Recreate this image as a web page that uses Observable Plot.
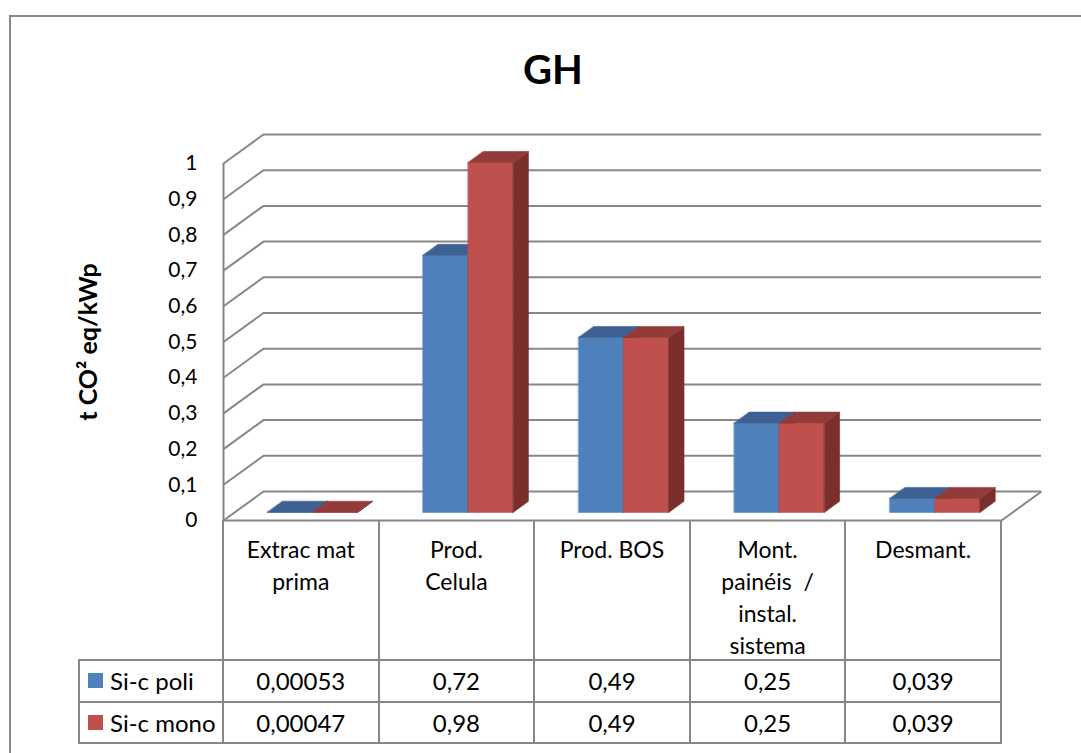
<!DOCTYPE html>
<html>
<head>
<meta charset="utf-8">
<script src="https://cdn.jsdelivr.net/npm/d3@7"></script>
<script src="https://cdn.jsdelivr.net/npm/@observablehq/plot@0.6"></script>
<style>
  body { margin: 0; background: #fff; font-family: Lato, "Open Sans", sans-serif; }
  #wrap { position: relative; width: 1081px; height: 753px; overflow: hidden; background: #fff; }
  #frame { position: absolute; left: 9px; top: 15px; width: 1200px; height: 900px;
           border-left: 2px solid #878787; border-top: 2px solid #878787; }
  #title { position: absolute; left: 0; width: 1106px; top: 44px; text-align: center;
           font-weight: bold; font-size: 40px; line-height: 50px; color: #000; }
  #wrap svg { position: absolute; left: 0; top: 0; }
  .cell { position: absolute; text-align: center; font-size: 23px; line-height: 32px;
          color: #000; white-space: pre; }
  .val { font-size: 24px; }
  .rowlab { position: absolute; font-size: 24px; line-height: 32px; color: #000; white-space: nowrap; }
  .sw { position: absolute; width: 15px; height: 15px; }
  .ln { position: absolute; background: #878787; }
</style>
</head>
<body>
<div id="wrap">
  <div id="frame"></div>
  <div id="title">GH</div>
</div>
<script>
// Life-cycle stages (header row of the data table)
const categories = [
  "Extrac mat\nprima",
  "Prod.\nCelula",
  "Prod. BOS",
  "Mont.\npainéis  /\ninstal.\nsistema",
  "Desmant."
];
// Series names and values (t CO2 eq / kWp)
const seriesNames = ["Si-c poli", "Si-c mono"];
const siPoli = [0.00053, 0.72, 0.49, 0.25, 0.039];
const siMono = [0.00047, 0.98, 0.49, 0.25, 0.039];
// Y axis ticks and title
const yTicks = [0, 0.1, 0.2, 0.3, 0.4, 0.5, 0.6, 0.7, 0.8, 0.9, 1];
const yTitle = "t CO² eq/kWp";

// Colours: front / top / side shading for each series
const palette = [
  {front: "#4F81BD", top: "#3C6192", side: "#34557F"},
  {front: "#C0504D", top: "#923B39", side: "#7A2F2D"}
];
const GRID = "#878787";

// Layout
const W = 1081, H = 753, ML = 223, MR = 80, MT = 163, MB = 233;
const n = categories.length;
const DEPTH_PX = [40, 29];                 // oblique depth of the floor/walls
const DXU = DEPTH_PX[0] / ((W - ML - MR) / n);
const DYU = DEPTH_PX[1] / (H - MT - MB);
const GROUP = 0.58;                         // share of a category taken by the bar pair
const BW = GROUP / 2;
const F0 = 0.28, F1 = 0.66;                 // front and back depth of the bars

const fmt = v => String(v).replace(".", ",");
const series = [siPoli, siMono];

// Faces of every 3-D column, in painting order
const faces = [];
categories.forEach((c, i) => {
  series.forEach((vals, s) => {
    const v = vals[i];
    const x0 = i + (1 - GROUP) / 2 + s * BW, x1 = x0 + BW;
    const a = [F0 * DXU, F0 * DYU], b = [F1 * DXU, F1 * DYU];
    const id = `${i}-${s}`;
    const poly = (name, color, pts) => pts.forEach(([x, y]) => faces.push({id: id + name, color, x, y}));
    poly("f", palette[s].front, [[x0 + a[0], a[1]], [x1 + a[0], a[1]], [x1 + a[0], v + a[1]], [x0 + a[0], v + a[1]]]);
    poly("s", palette[s].side, [[x1 + a[0], a[1]], [x1 + b[0], b[1]], [x1 + b[0], v + b[1]], [x1 + a[0], v + a[1]]]);
    poly("t", palette[s].top, [[x0 + a[0], v + a[1]], [x1 + a[0], v + a[1]], [x1 + b[0], v + b[1]], [x0 + b[0], v + b[1]]]);
  });
});

const chart = Plot.plot({
  width: W, height: H,
  marginLeft: ML, marginRight: MR, marginTop: MT, marginBottom: MB,
  x: {domain: [0, n], axis: null},
  y: {domain: [0, 1], axis: null},
  color: {type: "identity"},
  style: {fontFamily: "Lato, 'Open Sans', sans-serif", fontSize: "21px", color: "#000", background: "transparent", overflow: "visible"},
  marks: [
    // back wall gridlines
    Plot.ruleY(yTicks, {y: d => d + DYU, x1: DXU, x2: n + DXU, stroke: GRID, strokeWidth: 2}),
    // side wall diagonals
    Plot.link(yTicks, {x1: 0, y1: d => d, x2: DXU, y2: d => d + DYU, stroke: GRID, strokeWidth: 2}),
    // side wall front edge
    Plot.ruleX([0], {y1: 0, y2: 1, stroke: GRID, strokeWidth: 2}),
    // floor front and right edges
    Plot.ruleY([0], {x1: 0, x2: n, stroke: GRID, strokeWidth: 2}),
    Plot.link([0], {x1: n, y1: 0, x2: n + DXU, y2: DYU, stroke: GRID, strokeWidth: 2}),
    // columns
    Plot.line(faces, {x: "x", y: "y", z: "id", fill: "color", stroke: "color", strokeWidth: 0.6, curve: "linear-closed"}),
    // value axis
    Plot.axisY(yTicks, {tickSize: 0, tickPadding: 26, tickFormat: fmt, fontSize: 21, label: null}),
    Plot.text([yTitle], {frameAnchor: "left", textAnchor: "middle", rotate: -90, dx: -135, fontWeight: "bold", fontSize: 25})
  ]
});

const wrap = document.getElementById("wrap");
wrap.appendChild(chart);

// Data table below the plot, aligned with the category scale
const sx = chart.scale("x"), sy = chart.scale("y");
const edges = d3.range(n + 1).map(i => sx.apply(i));
const top0 = sy.apply(0);
const HEADER_H = 140, ROW_H = 41, LEG_L = 79;
const rowTops = [top0 + HEADER_H, top0 + HEADER_H + ROW_H + 1];
const bottom = top0 + HEADER_H + 2 * ROW_H + 1;

const w = d3.select(wrap);
const line = (x, y, wd, ht) => w.append("div").attr("class", "ln")
  .style("left", x + "px").style("top", y + "px").style("width", wd + "px").style("height", ht + "px");

edges.forEach(x => line(x - 1, top0, 2, bottom - top0 + 1));
line(LEG_L - 1, rowTops[0] - 1, 2, bottom - rowTops[0] + 2);
[rowTops[0], rowTops[1], bottom].forEach(y => line(LEG_L - 1, y - 1, edges[n] - LEG_L + 2, 2));

categories.forEach((c, i) => {
  w.append("div").attr("class", "cell")
    .style("left", edges[i] + "px").style("width", (edges[i + 1] - edges[i]) + "px")
    .style("top", (top0 + 13) + "px").text(c);
});

seriesNames.forEach((name, s) => {
  const yc = rowTops[s] + ROW_H / 2;
  w.append("div").attr("class", "sw").style("background", palette[s].front)
    .style("left", (LEG_L + 9) + "px").style("top", (yc - 8) + "px");
  w.append("div").attr("class", "rowlab")
    .style("left", (LEG_L + 31) + "px").style("top", (yc - 16) + "px").text(name);
  series[s].forEach((v, i) => {
    w.append("div").attr("class", "cell val")
      .style("left", edges[i] + "px").style("width", (edges[i + 1] - edges[i]) + "px")
      .style("top", (yc - 16) + "px").text(fmt(v));
  });
});
</script>
</body>
</html>
